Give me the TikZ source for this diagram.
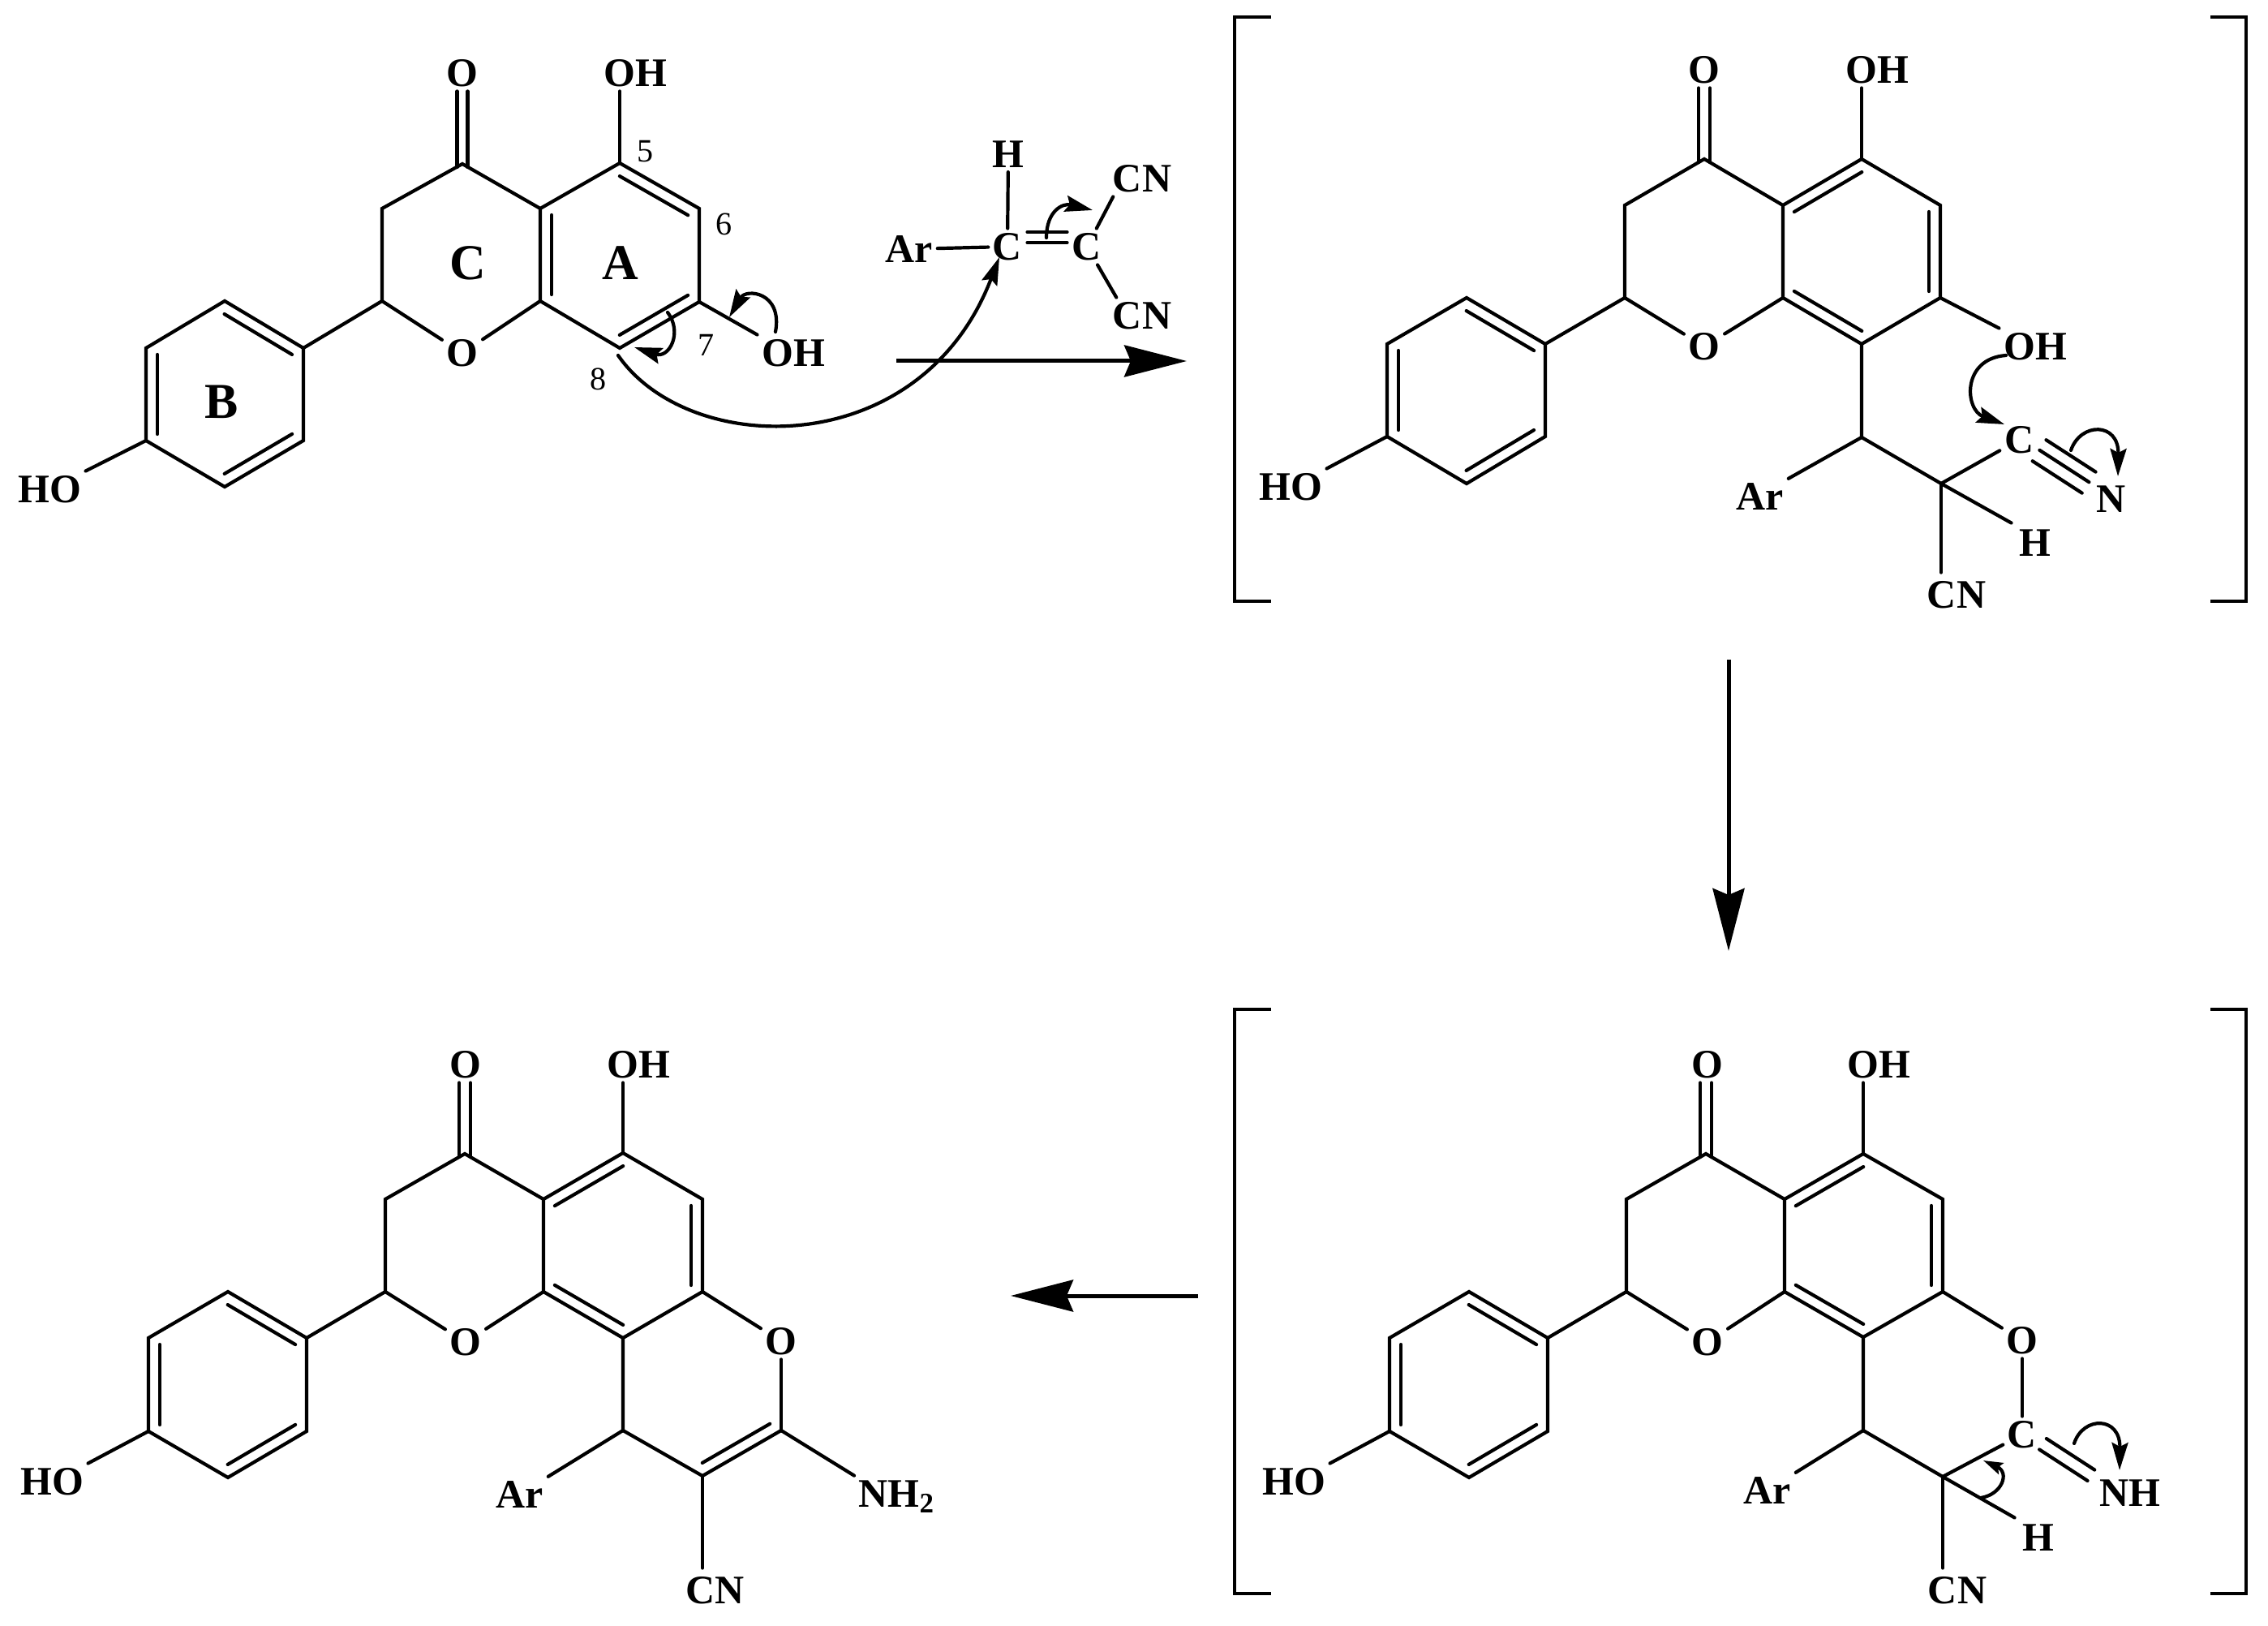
\documentclass[tikz,border=0pt]{standalone}
\usepackage{fontspec}
\setmainfont{Liberation Serif}
\usetikzlibrary{arrows.meta,calc}
\tikzset{
  atom/.style={font=\fontsize{14.2}{16}\selectfont\bfseries, inner sep=0.05cm},
  ringname/.style={font=\fontsize{17.6}{20}\selectfont\bfseries, inner sep=0pt},
  position/.style={font=\fontsize{11.4}{13}\selectfont, inner sep=0pt},
  bond/.style={line width=0.042cm, line cap=round},
  bracket/.style={line width=0.047cm},
  reaction/.style={line width=0.05cm, -{Stealth[length=0.77cm,width=0.39cm,inset=0.08cm]}},
  curly/.style={line width=0.042cm, line cap=round, -{Stealth[length=0.34cm,width=0.2cm,inset=0.05cm]}},
  curlysmall/.style={line width=0.042cm, line cap=round, -{Stealth[length=0.24cm,width=0.15cm,inset=0.04cm]}},
}
% second line of a multiple bond, on the left of the way from #1 to #2
\newcommand{\offbond}[5]{\draw[bond] ($(#1)!#3!(#2)!#5!90:(#2)$) -- ($(#1)!#4!(#2)!#5!90:(#2)$);}
\newcommand{\ringbond}[2]{\offbond{#1}{#2}{0.07}{0.93}{0.14cm}}

\begin{document}
\begin{tikzpicture}
  \useasboundingbox (0,0) rectangle (27.96,-20.04);

  % Top left flavanone
  \coordinate (ac4) at (5.70,-2.02);
  \coordinate (ac3) at (4.71,-2.57);
  \coordinate (ac2) at (4.71,-3.71);
  \coordinate (ac8a) at (6.66,-3.71);
  \coordinate (ac4a) at (6.66,-2.57);
  \coordinate (ac5) at (7.64,-2.01);
  \coordinate (ac6) at (8.62,-2.57);
  \coordinate (ac7) at (8.62,-3.72);
  \coordinate (ac8) at (7.64,-4.29);
  \coordinate (ab1) at (3.74,-4.29);
  \coordinate (ab2) at (2.77,-3.71);
  \coordinate (ab3) at (1.80,-4.29);
  \coordinate (ab4) at (1.80,-5.43);
  \coordinate (ab5) at (2.77,-6.00);
  \coordinate (ab6) at (3.74,-5.43);
  \node[atom] (ao) at (5.70,-0.90) {O};
  \node[atom] (aoh5) at (7.83,-0.90) {OH};
  \node[atom] (ao1) at (5.70,-4.35) {O};
  \node[atom] (aoh7) at (9.78,-4.35) {OH};
  \node[atom] (aho) at (0.61,-6.03) {HO};
  \node[ringname] (aringa) at (7.65,-3.24) {A};
  \node[ringname] (aringb) at (2.73,-4.95) {B};
  \node[ringname] (aringc) at (5.77,-3.24) {C};
  \node[position] (apos5) at (7.96,-1.87) {5};
  \node[position] (apos6) at (8.93,-2.76) {6};
  \node[position] (apos7) at (8.71,-4.25) {7};
  \node[position] (apos8) at (7.38,-4.67) {8};
  % Bonds of the top left flavanone
  \draw[bond] (ab1) -- (ab2) -- (ab3) -- (ab4) -- (ab5) -- (ab6) -- (ab1) -- (ac2);
  \draw[bond] (ac2) -- (ac3) -- (ac4) -- (ac4a) -- (ac5) -- (ac6) -- (ac7) -- (ac8) -- (ac8a) -- (ac4a);
  \draw[bond] (ac2) -- (ao1);
  \draw[bond] (ac8a) -- (ao1);
  \draw[bond] (ac5) -- (aoh5.south -| ac5);
  \draw[bond] (ac7) -- (aoh7.north west);
  \draw[bond] (ab4) -- (aho.north east);
  \draw[bond] ([xshift=-0.065cm,yshift=-0.04cm]ac4) -- ([xshift=-0.065cm]ao.south -| ac4);
  \draw[bond] ([xshift=0.065cm,yshift=-0.04cm]ac4) -- ([xshift=0.065cm]ao.south -| ac4);
  \ringbond{ab1}{ab2}
  \ringbond{ab3}{ab4}
  \ringbond{ab5}{ab6}
  \ringbond{ac6}{ac5}
  \ringbond{ac4a}{ac8a}
  \ringbond{ac8}{ac7}

  % Ylidene partner
  \node[atom] (rc1) at (12.42,-3.04) {C};
  \node[atom] (rc2) at (13.40,-3.04) {C};
  \node[atom] (rh) at (12.43,-1.90) {H};
  \node[atom] (rar) at (11.21,-3.07) {Ar};
  \node[atom] (rcn1) at (14.08,-2.20) {CN};
  \node[atom] (rcn2) at (14.08,-3.89) {CN};
  \draw[bond] (rh) -- (rc1);
  \draw[bond] (rar) -- (rc1);
  \draw[bond] (rc2) -- ([xshift=0.06cm]rcn1.south west);
  \draw[bond] (rc2) -- ([xshift=0.10cm]rcn2.north west);
  \offbond{rc1}{rc2}{0.25}{0.75}{0.18cm}
  \offbond{rc1}{rc2}{0.25}{0.75}{0.05cm}

  % Electron flow of the first step
  \coordinate (flowa) at (9.56,-4.09);
  \coordinate (flowb) at (8.99,-3.91);
  \draw[curly] (flowa) .. controls (9.65,-3.60) and (9.20,-3.55) .. (flowb);
  \coordinate (flowc) at (8.23,-3.85);
  \coordinate (flowd) at (7.82,-4.28);
  \draw[curly] (flowc) .. controls (8.42,-4.10) and (8.25,-4.42) .. (flowd);
  \coordinate (flowe) at (7.62,-4.38);
  \coordinate (flowf) at (12.32,-3.17);
  \draw[curly] (flowe) .. controls (8.50,-5.65) and (11.35,-5.70) .. (flowf);
  \coordinate (flowg) at (12.90,-2.93);
  \coordinate (flowh) at (13.47,-2.59);
  \draw[curly] (flowg) .. controls (12.90,-2.60) and (13.10,-2.50) .. (flowh);

  % Top right intermediate
  \coordinate (bc4) at (21.01,-1.96);
  \coordinate (bc3) at (20.03,-2.53);
  \coordinate (bc2) at (20.03,-3.67);
  \coordinate (bc8a) at (21.98,-3.67);
  \coordinate (bc4a) at (21.98,-2.53);
  \coordinate (bc5) at (22.95,-1.96);
  \coordinate (bc6) at (23.92,-2.53);
  \coordinate (bc7) at (23.92,-3.67);
  \coordinate (bc8) at (22.95,-4.24);
  \coordinate (bb1) at (19.05,-4.24);
  \coordinate (bb2) at (18.08,-3.67);
  \coordinate (bb3) at (17.10,-4.24);
  \coordinate (bb4) at (17.10,-5.38);
  \coordinate (bb5) at (18.08,-5.96);
  \coordinate (bb6) at (19.05,-5.38);
  \coordinate (bch) at (22.95,-5.39);
  \coordinate (bcx) at (23.93,-5.96);
  \node[atom] (bo) at (21.01,-0.86) {O};
  \node[atom] (boh5) at (23.14,-0.86) {OH};
  \node[atom] (bo1) at (21.01,-4.27) {O};
  \node[atom] (boh7) at (25.09,-4.27) {OH};
  \node[atom] (bho) at (15.91,-6.00) {HO};
  \node[atom] (bar) at (21.70,-6.12) {Ar};
  \node[atom] (bc) at (24.89,-5.42) {C};
  \node[atom] (bn) at (26.02,-6.15) {N};
  \node[atom] (bh) at (25.09,-6.69) {H};
  \node[atom] (bcn) at (24.12,-7.33) {CN};
  % Bonds of the top right intermediate
  \draw[bond] (bb1) -- (bb2) -- (bb3) -- (bb4) -- (bb5) -- (bb6) -- (bb1) -- (bc2);
  \draw[bond] (bc2) -- (bc3) -- (bc4) -- (bc4a) -- (bc5) -- (bc6) -- (bc7) -- (bc8) -- (bc8a) -- (bc4a);
  \draw[bond] (bc2) -- (bo1);
  \draw[bond] (bc8a) -- (bo1);
  \draw[bond] (bc8) -- (bch) -- (bcx);
  \draw[bond] (bc5) -- (boh5.south -| bc5);
  \draw[bond] (bc7) -- (boh7.north west);
  \draw[bond] (bb4) -- (bho.north east);
  \draw[bond] (bch) -- (bar.north east);
  \draw[bond] (bcx) -- (bc);
  \draw[bond, shorten >=0.05cm] (bcx) -- (bh.north west);
  \draw[bond, shorten >=0.05cm] (bcx) -- (bcn.north -| bcx);
  \draw[bond] ([xshift=-0.07cm,yshift=-0.04cm]bc4) -- ([xshift=-0.07cm]bo.south -| bc4);
  \draw[bond] ([xshift=0.07cm,yshift=-0.04cm]bc4) -- ([xshift=0.07cm]bo.south -| bc4);
  \ringbond{bb1}{bb2}
  \ringbond{bb3}{bb4}
  \ringbond{bb5}{bb6}
  \ringbond{bc5}{bc4a}
  \ringbond{bc8a}{bc8}
  \ringbond{bc7}{bc6}
  \offbond{bc}{bn}{0.21}{0.75}{0.18cm}
  \offbond{bc}{bn}{0.21}{0.75}{0.03cm}
  \offbond{bc}{bn}{0.21}{0.75}{-0.13cm}
  \coordinate (flowi) at (24.73,-4.38);
  \coordinate (flowj) at (24.71,-5.23);
  \draw[curly] (flowi) .. controls (24.18,-4.42) and (24.22,-5.05) .. (flowj);
  \coordinate (flowk) at (25.53,-5.55);
  \coordinate (flowl) at (26.11,-5.87);
  \draw[curly] (flowk) .. controls (25.65,-5.20) and (26.12,-5.20) .. (flowl);

  % Bottom right intermediate
  \coordinate (cc4) at (21.03,-14.22);
  \coordinate (cc3) at (20.05,-14.78);
  \coordinate (cc2) at (20.05,-15.92);
  \coordinate (cc8a) at (22.00,-15.92);
  \coordinate (cc4a) at (22.00,-14.78);
  \coordinate (cc5) at (22.97,-14.22);
  \coordinate (cc6) at (23.95,-14.78);
  \coordinate (cc7) at (23.95,-15.92);
  \coordinate (cc8) at (22.97,-16.48);
  \coordinate (cb1) at (19.08,-16.49);
  \coordinate (cb2) at (18.11,-15.92);
  \coordinate (cb3) at (17.13,-16.49);
  \coordinate (cb4) at (17.13,-17.64);
  \coordinate (cb5) at (18.11,-18.21);
  \coordinate (cb6) at (19.08,-17.64);
  \coordinate (cch) at (22.97,-17.63);
  \coordinate (ccx) at (23.95,-18.20);
  \coordinate (cnn) at (26.04,-18.40);
  \node[atom] (co) at (21.05,-13.12) {O};
  \node[atom] (coh) at (23.16,-13.12) {OH};
  \node[atom] (co1) at (21.05,-16.54) {O};
  \node[atom] (cop) at (24.93,-16.52) {O};
  \node[atom] (cho) at (15.95,-18.26) {HO};
  \node[atom] (car) at (21.79,-18.37) {Ar};
  \node[atom] (cc) at (24.93,-17.68) {C};
  \node[atom] (cnh) at (26.26,-18.40) {NH};
  \node[atom] (ch) at (25.13,-18.95) {H};
  \node[atom] (ccn) at (24.13,-19.60) {CN};
  % Bonds of the bottom right intermediate
  \draw[bond] (cb1) -- (cb2) -- (cb3) -- (cb4) -- (cb5) -- (cb6) -- (cb1) -- (cc2);
  \draw[bond] (cc2) -- (cc3) -- (cc4) -- (cc4a) -- (cc5) -- (cc6) -- (cc7) -- (cc8) -- (cc8a) -- (cc4a);
  \draw[bond] (cc2) -- (co1);
  \draw[bond] (cc8a) -- (co1);
  \draw[bond] (cc8) -- (cch) -- (ccx);
  \draw[bond] (cc5) -- (coh.south -| cc5);
  \draw[bond] (cc7) -- (cop);
  \draw[bond] (cop) -- (cc);
  \draw[bond] (cb4) -- (cho.north east);
  \draw[bond] (cch) -- (car.north east);
  \draw[bond] (ccx) -- (cc);
  \draw[bond, shorten >=0.05cm] (ccx) -- (ch.north west);
  \draw[bond, shorten >=0.05cm] (ccx) -- (ccn.north -| ccx);
  \draw[bond] ([xshift=-0.07cm,yshift=-0.04cm]cc4) -- ([xshift=-0.07cm]co.south -| cc4);
  \draw[bond] ([xshift=0.07cm,yshift=-0.04cm]cc4) -- ([xshift=0.07cm]co.south -| cc4);
  \ringbond{cb1}{cb2}
  \ringbond{cb3}{cb4}
  \ringbond{cb5}{cb6}
  \ringbond{cc5}{cc4a}
  \ringbond{cc8a}{cc8}
  \ringbond{cc7}{cc6}
  \offbond{cc}{cnn}{0.21}{0.745}{0.12cm}
  \offbond{cc}{cnn}{0.21}{0.745}{-0.04cm}
  \coordinate (flowm) at (24.42,-18.46);
  \coordinate (flown) at (24.45,-18.00);
  \draw[curlysmall] (flowm) .. controls (24.68,-18.42) and (24.78,-18.15) .. (flown);
  \coordinate (flowo) at (25.57,-17.79);
  \coordinate (flowp) at (26.13,-18.12);
  \draw[curly] (flowo) .. controls (25.68,-17.45) and (26.14,-17.45) .. (flowp);

  % Bottom left product
  \coordinate (dc4) at (5.73,-14.22);
  \coordinate (dc3) at (4.75,-14.78);
  \coordinate (dc2) at (4.75,-15.92);
  \coordinate (dc8a) at (6.70,-15.92);
  \coordinate (dc4a) at (6.70,-14.78);
  \coordinate (dc5) at (7.68,-14.21);
  \coordinate (dc6) at (8.66,-14.78);
  \coordinate (dc7) at (8.66,-15.92);
  \coordinate (dc8) at (7.68,-16.49);
  \coordinate (db1) at (3.78,-16.49);
  \coordinate (db2) at (2.81,-15.92);
  \coordinate (db3) at (1.83,-16.49);
  \coordinate (db4) at (1.83,-17.64);
  \coordinate (db5) at (2.81,-18.21);
  \coordinate (db6) at (3.78,-17.64);
  \coordinate (dch) at (7.68,-17.63);
  \coordinate (dcx) at (8.66,-18.19);
  \coordinate (dcy) at (9.63,-17.63);
  \node[atom] (do) at (5.74,-13.12) {O};
  \node[atom] (doh) at (7.87,-13.12) {OH};
  \node[atom] (do1) at (5.74,-16.54) {O};
  \node[atom] (dop) at (9.63,-16.53) {O};
  \node[atom] (dho) at (0.64,-18.26) {HO};
  \node[atom] (dar) at (6.41,-18.42) {Ar};
  \node[atom] (dcn) at (8.82,-19.60) {CN};
  \node[atom, anchor=base west] (dnh) at (10.53,-18.57) {NH\textsubscript{2}};
  % Bonds of the bottom left product
  \draw[bond] (db1) -- (db2) -- (db3) -- (db4) -- (db5) -- (db6) -- (db1) -- (dc2);
  \draw[bond] (dc2) -- (dc3) -- (dc4) -- (dc4a) -- (dc5) -- (dc6) -- (dc7) -- (dc8) -- (dc8a) -- (dc4a);
  \draw[bond] (dc2) -- (do1);
  \draw[bond] (dc8a) -- (do1);
  \draw[bond] (dc8) -- (dch) -- (dcx) -- (dcy);
  \draw[bond] (dc5) -- (doh.south -| dc5);
  \draw[bond] (dc7) -- (dop);
  \draw[bond] (dop) -- (dcy);
  \draw[bond] (db4) -- (dho.north east);
  \draw[bond] (dch) -- (dar.north east);
  \draw[bond] (dcy) -- (dnh.north west);
  \draw[bond, shorten >=0.05cm] (dcx) -- (dcn.north -| dcx);
  \draw[bond] ([xshift=-0.07cm,yshift=-0.04cm]dc4) -- ([xshift=-0.07cm]do.south -| dc4);
  \draw[bond] ([xshift=0.07cm,yshift=-0.04cm]dc4) -- ([xshift=0.07cm]do.south -| dc4);
  \ringbond{db1}{db2}
  \ringbond{db3}{db4}
  \ringbond{db5}{db6}
  \ringbond{dc5}{dc4a}
  \ringbond{dc8a}{dc8}
  \ringbond{dc7}{dc6}
  \ringbond{dcx}{dcy}

  % Reaction arrows
  \coordinate (stepa) at (11.05,-4.45);
  \coordinate (stepb) at (14.63,-4.45);
  \coordinate (stepc) at (21.31,-8.13);
  \coordinate (stepd) at (21.31,-11.72);
  \coordinate (stepe) at (14.77,-15.97);
  \coordinate (stepf) at (12.46,-15.97);
  \draw[reaction] (stepa) -- (stepb);
  \draw[reaction] (stepc) -- (stepd);
  \draw[reaction] (stepe) -- (stepf);

  % Square brackets
  \draw[bracket] (15.67,-0.21) -- (15.22,-0.21) -- (15.22,-7.41) -- (15.67,-7.41);
  \draw[bracket] (27.25,-0.21) -- (27.69,-0.21) -- (27.69,-7.41) -- (27.25,-7.41);
  \draw[bracket] (15.67,-12.44) -- (15.22,-12.44) -- (15.22,-19.64) -- (15.67,-19.64);
  \draw[bracket] (27.25,-12.44) -- (27.69,-12.44) -- (27.69,-19.64) -- (27.25,-19.64);
\end{tikzpicture}
\end{document}
